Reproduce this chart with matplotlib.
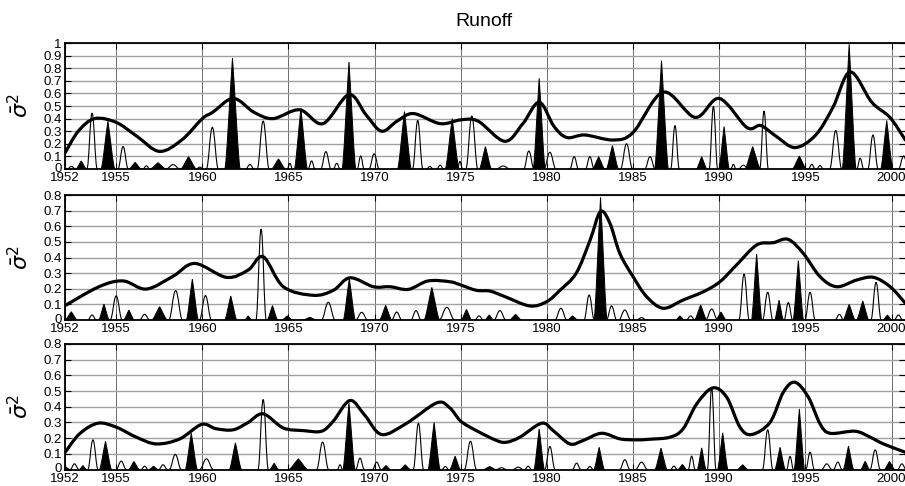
import matplotlib
matplotlib.use('Agg')
import matplotlib.pyplot as plt
from matplotlib.path import Path
from matplotlib.patches import PathPatch
from matplotlib.ticker import FixedLocator, FormatStrFormatter
import matplotlib.transforms as mtransforms

plt.rcParams['font.family'] = ['Liberation Sans', 'DejaVu Sans']
plt.rcParams['mathtext.fontset'] = 'dejavusans'

title = 'Runoff'
ylabel = r'$\bar{\sigma}^2$'
year_ticks = [1952, 1955, 1960, 1965, 1970, 1975, 1980, 1985, 1990, 1995, 2000]
x_range = (1952, 2000.78)
y_max = [1.0, 0.8, 0.8]

# ---- Panel 1 ----
p1_env_year = [1952.0, 1952.8, 1953.75, 1955.0, 1956.2, 1957.5, 1958.8, 1960.0, 1960.6, 1961.8,
               1963.0, 1964.1, 1965.65, 1967.0, 1968.5, 1969.5, 1970.4, 1971.3, 1972.25, 1973.8,
               1975.0, 1976.0, 1977.55, 1978.6, 1979.55, 1980.4, 1981.15, 1982.2, 1983.85, 1985.0,
               1986.75, 1988.6, 1990.0, 1991.6, 1992.4, 1993.3, 1994.4, 1995.6, 1996.6, 1997.6,
               1998.85, 1999.9, 2000.8]
p1_env_val = [0.12, 0.30, 0.40, 0.37, 0.26, 0.14, 0.23, 0.40, 0.45, 0.56,
              0.45, 0.40, 0.47, 0.36, 0.59, 0.43, 0.30, 0.38, 0.44, 0.36,
              0.39, 0.38, 0.22, 0.36, 0.53, 0.34, 0.25, 0.27, 0.23, 0.29,
              0.61, 0.41, 0.56, 0.33, 0.345, 0.26, 0.17, 0.27, 0.49, 0.77,
              0.53, 0.41, 0.23]
# (year, height, half-width)
p1_fill = [(1952.97, 0.064, 0.3), (1954.52, 0.38, 0.4), (1956.1, 0.053, 0.35), (1957.43, 0.05, 0.45),
           (1959.2, 0.098, 0.45), (1961.75, 0.88, 0.45), (1964.42, 0.08, 0.4), (1965.72, 0.48, 0.38),
           (1968.51, 0.85, 0.4), (1971.73, 0.456, 0.4), (1974.5, 0.40, 0.4), (1976.43, 0.178, 0.35),
           (1979.55, 0.72, 0.35), (1983.0, 0.098, 0.35), (1983.8, 0.186, 0.35), (1986.65, 0.86, 0.4),
           (1988.98, 0.098, 0.3), (1990.28, 0.337, 0.3), (1991.94, 0.178, 0.45), (1994.65, 0.103, 0.4),
           (1997.54, 0.99, 0.4), (1999.72, 0.385, 0.35)]
p1_thin = [(1952.4, 0.02, 0.25), (1953.6, 0.443, 0.3), (1955.4, 0.178, 0.3), (1956.75, 0.025, 0.2),
           (1958.3, 0.035, 0.4), (1959.85, 0.015, 0.2), (1960.58, 0.33, 0.35), (1962.76, 0.035, 0.25),
           (1963.53, 0.38, 0.35), (1965.08, 0.045, 0.15), (1966.34, 0.064, 0.2), (1967.17, 0.138, 0.3),
           (1967.8, 0.045, 0.2), (1969.19, 0.103, 0.2), (1969.97, 0.12, 0.3), (1972.5, 0.385, 0.3),
           (1973.2, 0.02, 0.2), (1973.8, 0.03, 0.2), (1974.95, 0.06, 0.15), (1975.64, 0.42, 0.35),
           (1977.46, 0.024, 0.4), (1978.95, 0.143, 0.3), (1980.17, 0.133, 0.35), (1981.58, 0.098, 0.25),
           (1982.49, 0.098, 0.25), (1984.62, 0.2, 0.35), (1985.98, 0.098, 0.3), (1987.43, 0.345, 0.25),
           (1989.66, 0.496, 0.25), (1990.82, 0.037, 0.15), (1991.4, 0.03, 0.3), (1992.6, 0.46, 0.25),
           (1995.37, 0.037, 0.2), (1995.85, 0.027, 0.2), (1996.76, 0.305, 0.35), (1998.18, 0.085, 0.2),
           (1998.92, 0.27, 0.3), (2000.7, 0.103, 0.3)]

# ---- Panel 2 ----
p2_env_year = [1952.0, 1954.0, 1955.4, 1956.75, 1958.3, 1959.56, 1961.4, 1962.66, 1963.53, 1964.7,
               1966.44, 1967.6, 1968.57, 1969.93, 1970.9, 1971.96, 1973.1, 1974.36, 1975.0, 1975.9,
               1976.7, 1977.55, 1979.0, 1979.98, 1980.75, 1981.7, 1982.5, 1983.1, 1983.65, 1984.23,
               1985.0, 1985.78, 1986.75, 1987.9, 1989.08, 1990.04, 1991.0, 1992.17, 1993.14, 1994.0,
               1994.88, 1995.85, 1996.82, 1997.98, 1998.95, 1999.92, 2000.8]
p2_env_val = [0.09, 0.213, 0.25, 0.198, 0.28, 0.362, 0.273, 0.32, 0.405, 0.213,
              0.158, 0.19, 0.27, 0.213, 0.213, 0.196, 0.25, 0.245, 0.224, 0.19,
              0.185, 0.15, 0.09, 0.117, 0.19, 0.30, 0.51, 0.693, 0.62, 0.426,
              0.277, 0.15, 0.075, 0.128, 0.181, 0.245, 0.352, 0.48, 0.495, 0.516,
              0.426, 0.277, 0.213, 0.256, 0.273, 0.213, 0.107]
p2_fill = [(1952.39, 0.053, 0.35), (1954.29, 0.102, 0.3), (1955.74, 0.064, 0.3), (1957.52, 0.085, 0.45),
           (1959.42, 0.262, 0.35), (1961.65, 0.154, 0.35), (1962.66, 0.026, 0.2), (1964.07, 0.092, 0.3),
           (1964.93, 0.026, 0.3), (1966.24, 0.017, 0.4), (1968.53, 0.267, 0.35), (1970.64, 0.094, 0.35),
           (1973.32, 0.209, 0.45), (1975.33, 0.068, 0.3), (1976.65, 0.032, 0.25), (1978.18, 0.036, 0.35),
           (1981.49, 0.026, 0.3), (1983.11, 0.785, 0.38), (1987.72, 0.026, 0.25), (1988.92, 0.096, 0.35),
           (1990.1, 0.051, 0.3), (1992.17, 0.422, 0.3), (1993.47, 0.128, 0.25), (1994.59, 0.38, 0.3),
           (1997.54, 0.1, 0.35), (1998.33, 0.122, 0.35), (1999.76, 0.032, 0.25)]
p2_thin = [(1953.6, 0.032, 0.25), (1955.0, 0.154, 0.35), (1956.65, 0.036, 0.3), (1958.45, 0.188, 0.4),
           (1960.18, 0.156, 0.35), (1963.41, 0.582, 0.3), (1967.31, 0.113, 0.4), (1969.25, 0.049, 0.35),
           (1971.28, 0.051, 0.3), (1972.4, 0.06, 0.3), (1974.19, 0.081, 0.45), (1976.06, 0.026, 0.25),
           (1977.27, 0.06, 0.35), (1980.81, 0.075, 0.35), (1982.45, 0.16, 0.3), (1983.75, 0.09, 0.3),
           (1984.52, 0.064, 0.35), (1985.49, 0.015, 0.3), (1988.34, 0.026, 0.25), (1989.56, 0.07, 0.35),
           (1991.44, 0.294, 0.3), (1992.81, 0.177, 0.3), (1994.01, 0.111, 0.25), (1995.27, 0.177, 0.3),
           (1996.97, 0.036, 0.25), (1999.1, 0.241, 0.3), (2000.4, 0.032, 0.25)]

# ---- Panel 3 ----
p3_env_year = [1952.0, 1952.87, 1953.94, 1955.0, 1956.17, 1957.33, 1958.69, 1959.95, 1960.8, 1961.79,
               1962.66, 1963.53, 1964.69, 1965.86, 1966.92, 1967.6, 1968.57, 1969.44, 1970.41, 1971.86,
               1973.61, 1974.36, 1975.0, 1975.9, 1977.07, 1977.65, 1978.43, 1979.69, 1980.36, 1981.33,
               1982.1, 1983.17, 1984.24, 1985.2, 1985.98, 1987.14, 1987.9, 1988.69, 1989.62, 1990.43,
               1991.2, 1991.88, 1992.95, 1993.72, 1994.4, 1995.17, 1995.85, 1996.43, 1997.88, 1998.76,
               1999.53, 2000.8]
p3_env_val = [0.104, 0.227, 0.295, 0.27, 0.206, 0.163, 0.195, 0.287, 0.26, 0.253,
              0.30, 0.355, 0.265, 0.248, 0.244, 0.308, 0.44, 0.344, 0.223, 0.295,
              0.425, 0.393, 0.308, 0.248, 0.185, 0.174, 0.206, 0.295, 0.248, 0.163,
              0.185, 0.231, 0.195, 0.189, 0.193, 0.206, 0.259, 0.418, 0.52, 0.461,
              0.27, 0.223, 0.301, 0.493, 0.556, 0.461, 0.291, 0.231, 0.244, 0.206,
              0.163, 0.11]
p3_fill = [(1952.1, 0.015, 0.2), (1953.07, 0.025, 0.2), (1954.38, 0.18, 0.35), (1956.03, 0.051, 0.3),
           (1957.17, 0.021, 0.25), (1959.36, 0.231, 0.35), (1961.92, 0.17, 0.35), (1964.17, 0.04, 0.25),
           (1965.57, 0.068, 0.55), (1968.51, 0.425, 0.35), (1970.66, 0.025, 0.25), (1971.77, 0.03, 0.3),
           (1973.45, 0.30, 0.35), (1974.67, 0.085, 0.3), (1976.68, 0.019, 0.35), (1979.55, 0.259, 0.3),
           (1983.03, 0.142, 0.3), (1986.62, 0.136, 0.35), (1987.86, 0.032, 0.25), (1988.98, 0.138, 0.25),
           (1990.2, 0.234, 0.3), (1991.36, 0.03, 0.3), (1993.53, 0.142, 0.3), (1994.65, 0.386, 0.3),
           (1997.5, 0.149, 0.3), (1998.47, 0.053, 0.25), (1999.88, 0.051, 0.3)]
p3_thin = [(1952.58, 0.036, 0.25), (1953.65, 0.189, 0.3), (1955.29, 0.053, 0.3), (1956.65, 0.021, 0.2),
           (1957.72, 0.03, 0.25), (1958.43, 0.096, 0.35), (1960.24, 0.068, 0.4), (1963.53, 0.446, 0.3),
           (1966.98, 0.174, 0.35), (1967.99, 0.03, 0.15), (1969.15, 0.072, 0.25), (1970.12, 0.047, 0.25),
           (1972.54, 0.295, 0.3), (1974.1, 0.019, 0.2), (1975.56, 0.18, 0.35), (1977.36, 0.011, 0.3),
           (1978.33, 0.015, 0.3), (1978.91, 0.021, 0.2), (1980.17, 0.146, 0.3), (1981.72, 0.04, 0.25),
           (1982.49, 0.019, 0.2), (1984.52, 0.062, 0.3), (1985.49, 0.047, 0.35), (1987.37, 0.021, 0.2),
           (1988.4, 0.085, 0.2), (1989.56, 0.524, 0.25), (1992.81, 0.253, 0.3), (1994.11, 0.083, 0.2),
           (1995.27, 0.11, 0.25), (1996.24, 0.036, 0.3), (1996.88, 0.047, 0.25), (1999.05, 0.125, 0.3),
           (2000.6, 0.036, 0.25)]

panels = [
    (p1_env_year, p1_env_val, p1_fill, p1_thin),
    (p2_env_year, p2_env_val, p2_fill, p2_thin),
    (p3_env_year, p3_env_val, p3_fill, p3_thin),
]

W, H = 905, 486
rects_px = [(64.5, 43, 905, 169), (64.5, 195, 905, 320), (64.5, 344, 905, 469.5)]


def bump_patch(c, h, w, filled):
    s, e = c - w, c + w
    if filled:
        # slightly concave flanks ending in a sharp tip
        a, ka, b, kb = 0.20, 0.0, 0.33, 0.68
    else:
        # rounded bell
        a, ka, b, kb = 0.40, 0.0, 0.40, 1.0
    verts = [(s, 0), (s + a * w, ka * h), (c - b * w, kb * h), (c, h),
             (c + b * w, kb * h), (e - a * w, ka * h), (e, 0)]
    codes = [Path.MOVETO] + [Path.CURVE4] * 6
    if filled:
        verts.append((s, 0))
        codes.append(Path.CLOSEPOLY)
        return PathPatch(Path(verts, codes), facecolor='black', edgecolor='black',
                         lw=0.7, zorder=3)
    return PathPatch(Path(verts, codes), facecolor='none', edgecolor='black',
                     lw=0.8, zorder=3)


def smooth_patch(xs, ys):
    # Catmull-Rom curve through the read points, as cubic Bezier segments
    n = len(xs)
    verts = [(xs[0], ys[0])]
    codes = [Path.MOVETO]
    for i in range(n - 1):
        i0 = max(i - 1, 0)
        i3 = min(i + 2, n - 1)
        c1 = (xs[i] + (xs[i + 1] - xs[i0]) / 6, ys[i] + (ys[i + 1] - ys[i0]) / 6)
        c2 = (xs[i + 1] - (xs[i3] - xs[i]) / 6, ys[i + 1] - (ys[i3] - ys[i]) / 6)
        verts += [c1, c2, (xs[i + 1], ys[i + 1])]
        codes += [Path.CURVE4] * 3
    return PathPatch(Path(verts, codes), facecolor='none', edgecolor='black',
                     lw=2.3, zorder=4, capstyle='round', joinstyle='round')


fig = plt.figure(figsize=(W / 100, H / 100), dpi=100)

for i, (ey, ev, fills, thins) in enumerate(panels):
    l, t, r, b = rects_px[i]
    ax = fig.add_axes([l / W, 1 - b / H, (r - l) / W, (b - t) / H])
    ax.set_xlim(*x_range)
    ax.set_ylim(0, y_max[i])
    ax.set_axisbelow(True)

    for (c, h, w) in thins:
        ax.add_patch(bump_patch(c, h, w, False))
    for (c, h, w) in fills:
        ax.add_patch(bump_patch(c, h, w, True))
    ax.add_patch(smooth_patch(ey, ev))

    yt = [k / 10 for k in range(int(round(y_max[i] * 10)) + 1)]
    ax.yaxis.set_major_locator(FixedLocator(yt))
    ax.yaxis.set_major_formatter(FormatStrFormatter('%g'))
    ax.xaxis.set_major_locator(FixedLocator(year_ticks))
    ax.xaxis.set_major_formatter(FormatStrFormatter('%d'))

    ax.grid(axis='y', color='#a0a0a0', lw=1.0, ls='-')
    ax.grid(axis='x', color='#555555', lw=0.6, ls='-')

    ax.tick_params(direction='in', length=4, width=0.8, top=True, right=True,
                   labelsize=9.5, colors='black')
    ax.tick_params(axis='x', pad=2.5)
    ax.tick_params(axis='y', pad=2)
    for sp in ['left', 'top', 'bottom']:
        ax.spines[sp].set_linewidth(1.3)
    ax.spines['right'].set_visible(False)

    # lift the "0" label a little, as in the reference
    fig.canvas.draw()
    lab0 = ax.get_yticklabels()[0]
    lab0.set_transform(lab0.get_transform() +
                       mtransforms.ScaledTranslation(0, 1.2 / 72, fig.dpi_scale_trans))

    ax.text(-0.052, 0.5, ylabel, rotation=90, transform=ax.transAxes,
            ha='center', va='center', fontsize=16)

fig.text(484 / W, 1 - 26 / H, title, ha='center', va='baseline', fontsize=14)

fig.savefig('out.png', dpi=100)
